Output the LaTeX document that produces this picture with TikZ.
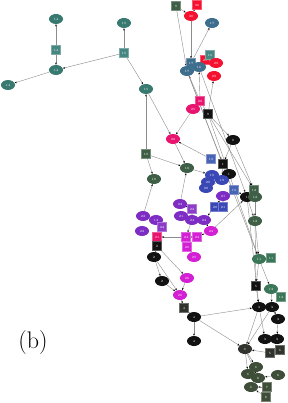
\documentclass[tikz,border=0pt]{standalone}
\usepackage{tikz}
\usetikzlibrary{arrows.meta, shapes.geometric, backgrounds}
\definecolor{nodeteal}{RGB}{56, 122, 112}
\definecolor{sqteal}{RGB}{70, 135, 130}
\definecolor{nodesteel}{RGB}{62, 110, 142}
\definecolor{nodered}{RGB}{245, 18, 48}
\definecolor{nodepink}{RGB}{232, 20, 110}
\definecolor{nodeblack}{RGB}{18, 18, 18}
\definecolor{nodegreen}{RGB}{62, 94, 70}
\definecolor{nodeblue}{RGB}{58, 72, 182}
\definecolor{sqblue}{RGB}{72, 100, 180}
\definecolor{nodepurple}{RGB}{125, 45, 195}
\definecolor{sqpurple}{RGB}{140, 60, 200}
\definecolor{nodemagenta}{RGB}{212, 32, 212}
\definecolor{nodemint}{RGB}{60, 118, 88}
\definecolor{nodedark}{RGB}{48, 52, 44}
\definecolor{nodeolive}{RGB}{62, 78, 56}
\definecolor{linkgray}{RGB}{140, 140, 140}

\begin{document}
\begin{tikzpicture}[
    x=1pt, y=-1pt,
    ell/.style={ellipse, fill=#1, minimum width=14pt, minimum height=10pt, inner sep=0pt,
        text=white, font=\fontsize{3.2}{3.5}\selectfont},
    sq/.style={rectangle, fill=#1, draw=#1!70!white, line width=0.4pt, minimum size=9pt, inner sep=0pt,
        text=white, font=\fontsize{3.2}{3.5}\selectfont},
    link/.style={draw=linkgray, line width=0.4pt, -{Stealth[length=2.2pt, width=1.8pt, black]}}
]
\useasboundingbox (0,0) rectangle (287,403);

% Top left cluster
\node[ell=nodeteal] (t14a) at (56,19) {14};
\node[sq=sqteal] (s14) at (56,50) {14};
\node[ell=nodeteal] (t14b) at (56,70) {14};
\node[ell=nodeteal] (t14c) at (8,85) {14};
\node[ell=nodeteal] (t15a) at (124,23) {15};
\node[sq=sqteal] (s15) at (124,53) {15};
\node[ell=nodeteal] (t15b) at (146,89) {15};

% Top right cluster
\node[sq=nodegreen] (s9g) at (176,6) {9};
\node[sq=nodered] (s30) at (197,5) {30};
\node[ell=nodered] (r30) at (191,16) {30};
\node[ell=nodesteel] (b17a) at (212,23) {17};
\node[sq=nodered] (sr29) at (205,60) {29};
\node[sq=sqteal] (s16) at (210,55) {16};
\node[ell=nodered] (r29a) at (216,63) {29};
\node[ell=nodered] (r29b) at (214,76) {29};
\node[sq=nodesteel] (sb17) at (191,63) {17};
\node[ell=nodesteel] (b17b) at (187,71) {17};
\node[ell=nodesteel] (b16) at (199,67) {16};
\node[sq=nodepink] (sp28) at (200,101) {28};
\node[ell=nodepink] (p25) at (193,109) {25};
\node[sq=nodeblack] (sk9) at (208,114) {9};
\node[ell=nodepink] (p28) at (173,139) {28};
\node[ell=nodeblack] (k0) at (233,140) {0};

% Middle
\node[sq=nodegreen] (sg10) at (146,154) {10};
\node[ell=nodegreen] (g18) at (187,168) {18};
\node[sq=sqblue] (sb19) at (211,159) {19};
\node[sq=nodeblack] (sk1) at (223,164) {1};
\node[ell=nodeblack] (k1) at (229,174) {1};
\node[ell=nodegreen] (g10) at (154,179) {10};
\node[ell=nodeblue] (u19a) at (212,175) {19};
\node[ell=nodeblue] (u19b) at (222,180) {19};
\node[ell=nodeblue] (u20a) at (208,182) {20};
\node[ell=nodeblue] (u20b) at (206,188) {20};
\node[sq=sqblue] (su19) at (234,190) {19};
\node[ell=nodepurple] (u21) at (223,196) {21};
\node[ell=nodeblack] (k2x) at (247,197) {1};
\node[sq=nodegreen] (sg12) at (254,190) {12};
\node[ell=nodegreen] (g12a) at (255,197) {12};
\node[sq=nodeblue] (su20) at (215,207) {20};
\node[sq=nodeblue] (su21) at (223,207) {21};
\node[ell=nodegreen] (g12b) at (255,221) {12};

% Purple and magenta group
\node[ell=nodepurple] (v23) at (180,204) {23};
\node[sq=sqpurple] (sv22) at (192,209) {22};
\node[ell=nodepurple] (v21) at (181,216) {21};
\node[ell=nodepurple] (v24a) at (192,220) {24};
\node[ell=nodepurple] (v24b) at (204,220) {24};
\node[ell=nodepurple] (v22a) at (143,216) {22};
\node[ell=nodepurple] (v13) at (156,220) {13};
\node[sq=sqpurple] (sv22b) at (162,227) {22};
\node[ell=nodepurple] (v22b) at (142,231) {22};
\node[ell=nodemagenta] (m24) at (211,231) {24};
\node[sq=nodepink] (sp21) at (157,237) {21};
\node[sq=nodemagenta] (sm24) at (186,237) {24};
\node[sq=nodemagenta] (sm23) at (197,237) {23};
\node[sq=nodeblack] (sk2) at (157,246) {2};
\node[sq=nodemagenta] (sm26) at (187,247) {26};
\node[ell=nodemagenta] (m25) at (194,257) {25};
\node[ell=nodeblack] (k2a) at (154,257) {2};
\node[ell=nodeblack] (k2b) at (162,281) {2};
\node[ell=nodemagenta] (m26a) at (187,278) {26};
\node[ell=nodemagenta] (m26b) at (180,295) {26};
\node[sq=nodedark] (sd4) at (184,308) {4};
\node[ell=nodeblack] (k4a) at (194,317) {4};
\node[ell=nodeblack] (k4b) at (194,341) {4};

% Bottom right
\node[ell=nodemint] (g11) at (259,259) {11};
\node[sq=nodemint] (sg11) at (271,258) {11};
\node[sq=nodeblack] (sk5) at (256,286) {5};
\node[ell=nodemint] (n13) at (271,289) {13};
\node[sq=nodemint] (sn13) at (281,297) {13};
\node[ell=nodeblack] (k3a) at (259,307) {3};
\node[ell=nodeblack] (k3b) at (272,307) {3};
\node[ell=nodeblack] (k3c) at (278,319) {3};
\node[ell=nodeblack] (k3d) at (265,339) {3};
\node[ell=nodeblack] (k3e) at (277,339) {3};
\node[ell=nodedark] (d6) at (245,349) {6};
\node[sq=nodedark] (sd5) at (270,353) {5};
\node[sq=nodedark] (sd6) at (280,350) {6};
\node[ell=nodeolive] (o6a) at (256,367) {6};
\node[ell=nodeolive] (o6b) at (248,374) {6};
\node[ell=nodeolive] (o8a) at (258,378) {8};
\node[ell=nodeolive] (o8b) at (278,375) {8};
\node[ell=nodeolive] (o6c) at (251,387) {6};
\node[sq=nodeolive] (so7) at (267,387) {7};
\node[sq=nodeolive] (so8) at (266,397) {8};

% Caption
\node[font=\fontsize{24}{28}\selectfont] (cap) at (33,343) {(b)};

% Connectors
\begin{scope}[on background layer]
\foreach \a/\b in {s14/t14a, s14/t14b, t14b/t14c, s15/t15a, s15/t14b, s15/t15b, sg10/t15b, t15b/p28,
    s9g/r30, s30/r30, s9g/b17b, r30/sb17, sb17/b17a, s16/r29a, s16/sr29, sk9/r29b,
    sp28/b17b, sp28/p25, sp28/b16, p25/p28, sk9/k0, b17b/sk1, b16/k2x, sp28/sg12, sk9/g11, b17b/g11,
    sb19/p28, p28/g18, sg10/g18, sg10/g10, v22a/g10, g18/u19a, v23/g18, k0/sk1, sk1/k1, k0/sg12,
    sk1/u19b, u19a/u20a, u19b/u20b, su19/k2x, su20/u21, su21/u21, m24/k2x, sg12/g12a, g12a/g12b,
    g12b/g11, k2x/g12b, v23/sv22, sv22/v24a, v21/v24a, v24b/m24, su20/v24b, v13/v22a, sv22b/v13,
    sp21/sv22b, sm24/sp21, m24/sm23, sm23/sm24, v24a/sm24, sm24/sm26, sm26/m25, sk2/k2a, k2a/k2b,
    k2b/m26b, k2a/m26b, sk2/m26a, m26a/m26b, m26b/sd4, sd4/k4a, k4a/k4b, k4a/k3a, k4a/d6,
    sg11/g11, g11/sk5, g11/n13, sn13/n13, sk5/k3a, n13/k3b, k3b/k3c, k3c/k3e, k3a/k3d, k3a/d6,
    k3b/d6, k3d/k3e, sd5/d6, sd6/sd5, d6/o6a, d6/o6b, d6/o8a, o8b/o8a, o6a/o6b, so7/o6c, so8/o6c,
    o6a/o8a, g12b/sk5, k2x/k3a}
    \draw[link] (\a) -- (\b);
\end{scope}

\end{tikzpicture}
\end{document}
